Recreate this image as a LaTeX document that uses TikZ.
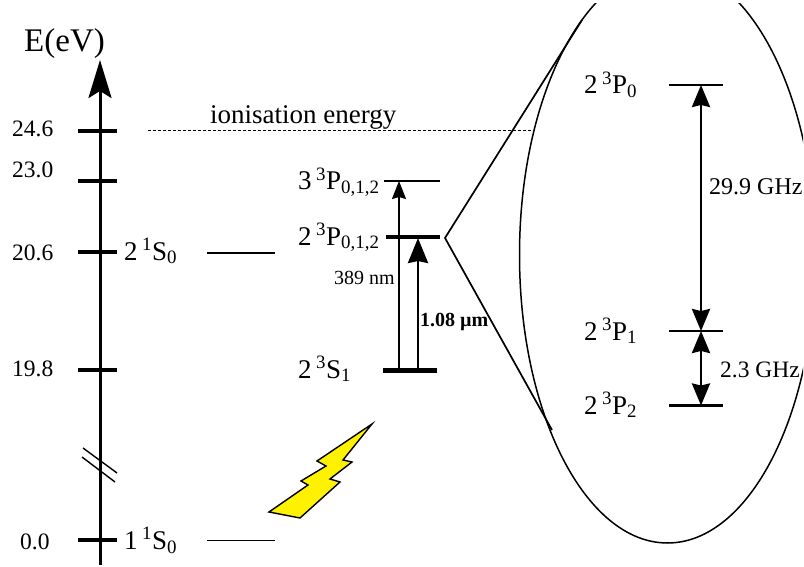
\documentclass[tikz,border=0pt]{standalone}
\usepackage{fontspec}
\setmainfont{Liberation Serif}
\usetikzlibrary{arrows.meta}
\newcommand{\lev}[4]{#1\,\textsuperscript{#2}#3\textsubscript{#4}}
\tikzset{
  axisline/.style = {line width=3pt, -{Stealth[length=38pt,width=23pt,inset=7pt]}},
  tick/.style     = {line width=4pt},
  thinlev/.style  = {line width=1.4pt},
  midlev/.style   = {line width=2.6pt},
  boldlev/.style  = {line width=4.4pt},
  thinarr/.style  = {line width=1.6pt, -{Stealth[length=18pt,width=14pt,inset=2pt]}},
  fatarr/.style   = {line width=2.8pt, -{Stealth[length=25pt,width=20pt,inset=2pt]}},
  splitarr/.style = {line width=2.6pt, {Stealth[length=22pt,width=18pt,inset=2pt]}-{Stealth[length=22pt,width=18pt,inset=2pt]}},
  fan/.style      = {line width=1.7pt},
  val/.style      = {anchor=base west, inner sep=0pt, font=\fontsize{23.5}{26}\selectfont},
  term/.style     = {anchor=base west, inner sep=0pt, font=\fontsize{27}{30}\selectfont},
  freq/.style     = {anchor=base west, inner sep=0pt, font=\fontsize{24}{27}\selectfont},
  wave/.style     = {anchor=base west, inner sep=0pt, font=\fontsize{20}{22}\selectfont},
}
\begin{document}
\begin{tikzpicture}[x=1pt,y=-1pt]
  \useasboundingbox (0,0) rectangle (804,567);
  % energy axis
  \coordinate (axb) at (100,565);
  \coordinate (axt) at (100,60);
  \draw[axisline] (axb)--(axt);
  \node[term, font=\fontsize{33}{36}\selectfont] (unit) at (24,52) {E(eV)};
  \foreach \yy/\vv/\xv/\bb/\nn in {131/24.6/12/137/a, 181/23.0/12/178/b, 252/20.6/12/260/c,
      370/19.8/12/376/d, 540/0.0/20/549/e}{
    \draw[tick] (78,\yy)--(117,\yy);
    \node[val] (v\nn) at (\xv,\bb) {\vv};
  }
  % axis break
  \draw[line width=1.4pt] (83,448)--(117,473);
  \draw[line width=1.4pt] (82,457)--(115,482);
  % singlet levels
  \node[term] (s2) at (124,260) {\lev{2}{1}{S}{0}};
  \node[term] (s1) at (124,549) {\lev{1}{1}{S}{0}};
  \draw[thinlev] (207,253)--(275,253);
  \draw[thinlev] (207,540.5)--(275,540.5);
  % ionisation
  \node[term] (ion) at (210,124) {ionisation energy};
  \draw[densely dashed, line width=1pt] (148,131)--(533,131);
  % triplet levels
  \coordinate (p3l) at (384,181);
  \coordinate (p3r) at (440,181);
  \coordinate (p2l) at (386,237);
  \coordinate (p2r) at (440,237);
  \coordinate (s3l) at (383,370.5);
  \coordinate (s3r) at (437,370.5);
  \draw[thinlev] (p3l)--(p3r);
  \draw[boldlev] (p2l)--(p2r);
  \draw[boldlev] (s3l)--(s3r);
  \node[term] (tp3) at (298,190) {\lev{3}{3}{P}{0,1,2}};
  \node[term] (tp2) at (298,245) {\lev{2}{3}{P}{0,1,2}};
  \node[term] (ts3) at (298,378) {\lev{2}{3}{S}{1}};
  \draw[thinarr] (399,370)--(399,181);
  \draw[fatarr] (418,370)--(418,238);
  \node[wave] (w389) at (334,284) {389 nm};
  \node[wave, font=\fontsize{20}{22}\selectfont\bfseries] (w108) at (420,326) {1.08 µm};
  % zoom lens
  \coordinate (apex) at (445,238);
  \coordinate (up) at (582,20);
  \coordinate (down) at (552,430);
  \draw[fan] (up)--(apex)--(down);
  \begin{scope}
    \clip (0,4) rectangle (803,567);
    \draw[line width=1.5pt] (667.5,255) ellipse [x radius=148, y radius=288];
  \end{scope}
  % fine structure
  \coordinate (j0l) at (669,85);
  \coordinate (j0r) at (723,85);
  \coordinate (j1l) at (669,331);
  \coordinate (j1r) at (723,331);
  \coordinate (j2l) at (669,405.5);
  \coordinate (j2r) at (723,405.5);
  \draw[midlev] (j0l)--(j0r);
  \draw[midlev] (j1l)--(j1r);
  \draw[midlev] (j2l)--(j2r);
  \draw[splitarr] (701,85)--(701,331);
  \draw[splitarr] (701,331)--(701,405.5);
  \node[term] (t0) at (584,94) {\lev{2}{3}{P}{0}};
  \node[term] (t1) at (584,340) {\lev{2}{3}{P}{1}};
  \node[term] (t2) at (584,414) {\lev{2}{3}{P}{2}};
  \node[freq] (f29) at (709,195) {29.9 GHz};
  \node[freq, font=\fontsize{23.5}{26}\selectfont] (f23) at (720,377) {2.3 GHz};
  % discharge bolt
  \draw[line width=1.4pt, fill=yellow, line join=miter] (372,424)--(343,460)--(352,462)--(330,479)--(340,482)
    --(300,518)--(269,512)--(308,485)--(301,481)--(326,466)--(317,461)--cycle;
\end{tikzpicture}
\end{document}
